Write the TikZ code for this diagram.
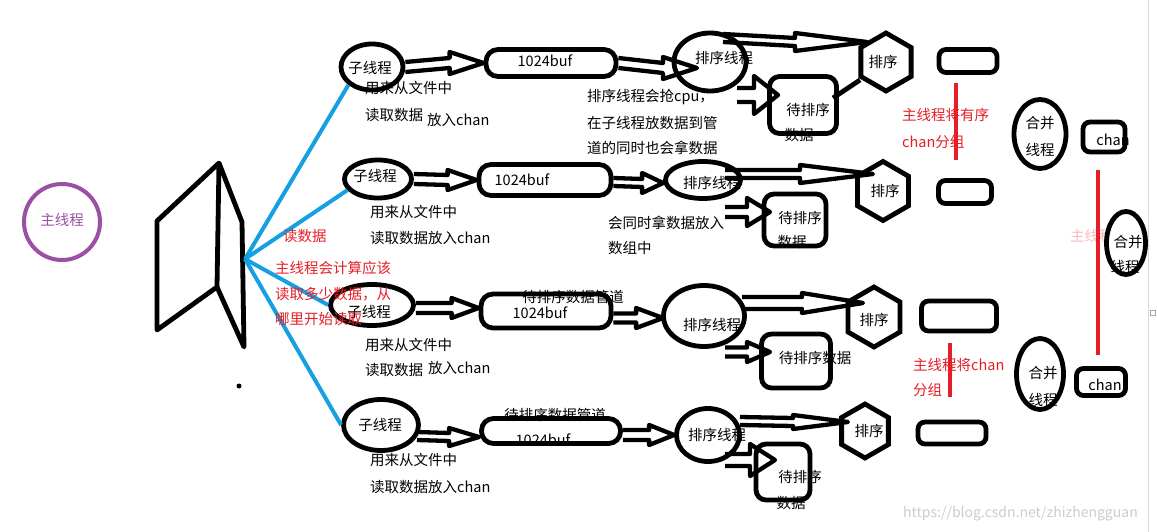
\documentclass[tikz,border=0pt]{standalone}
\usepackage{fontspec}
\setmainfont{Noto Sans CJK SC}
\usetikzlibrary{shapes.geometric,calc}
\definecolor{rd}{RGB}{230,30,40}
\definecolor{bl}{RGB}{20,160,225}
\definecolor{pu}{RGB}{155,80,165}
\begin{document}
\begin{tikzpicture}[x=1pt,y=-1pt,
  every node/.style={font=\fontsize{14.5}{17}\selectfont, inner sep=0pt},
  thk/.style={draw=black, line width=4.8pt},
  ell/.style={thk, ellipse},
  rbox/.style={thk, rectangle, rounded corners=#1},
  hexa/.style={thk, regular polygon, regular polygon sides=6, shape border rotate=30},
  txt/.style={anchor=west},
  redtxt/.style={anchor=west, text=rd},
  blueln/.style={draw=bl, line width=4pt},
  redln/.style={draw=rd, line width=4pt},
  blk/.style n args={3}{draw=black, line width=4.3pt, line join=round, to path={
    let \p1=(\tikztostart), \p2=(\tikztotarget) in
    (\x1,\y1+#1) -- (\x2-#2,\y2+#1) -- (\x2-#2,\y2+#3) -- (\x2,\y2) -- (\x2-#2,\y2-#3) -- (\x2-#2,\y2-#1) -- (\x1,\y1-#1)}}
]
\useasboundingbox (0,0) rectangle (1157,532);
\fill[white] (0,0) rectangle (1157,532);

% main thread
\node[draw=pu, line width=4pt, circle, minimum size=76] (mt) at (62,222) {};
\node[text=pu] at (62,220) {主线程};

% book
\coordinate (bk) at (245,259);
\draw[thk, line join=round] (157,221) -- (219,163) -- (217,287) -- (157,330) -- cycle;
\draw[thk, line join=round] (219,163) -- (242,222) -- (244,347) -- (217,287);
\fill (239,386) circle (2.5);

% ---------- row 1
\node[ell, minimum width=62, minimum height=46] (z1) at (372,67) {};
\node at (370,68) {子线程};
\node[rbox=12, minimum width=130, minimum height=27] (b1) at (551,63) {};
\node at (545,61) {1024buf};
\node[ell, minimum width=72, minimum height=58] (s1) at (710,62) {};
\node at (724,58) {排序线程};
\node at (808,110) {待排序};
\node at (799,135) {数据};
\node[rbox=10, minimum width=67, minimum height=57] (p1) at (803,105) {};
\node[hexa, minimum size=58] (h1) at (886,62) {};
\node at (883,62) {排序};
\node[rbox=7, minimum width=58, minimum height=23] (r1) at (968,61) {};
\node[txt] at (365,88) {用来从文件中};
\node[txt] at (365,115) {读取数据};
\node[txt] at (427,120) {放入chan};
\node[txt] at (587,97) {排序线程会抢cpu，};
\node[txt] at (587,123) {在子线程放数据到管};
\node[txt] at (587,148) {道的同时也会拿数据};
\draw[blk={5}{34}{11}] (z1.east) to (b1.west);
\draw[blk={5}{34}{11}] (b1.east) to ($(s1.center)+(-13,6)$);
\draw[blk={4}{72}{9}] ($(s1.center)+(13,-24)$) to ($(h1.center)+(-19,-20)$);
\draw[blk={7}{24}{19}] ($(s1.center)+(27,33)$) to ($(p1.center)+(-25,-10)$);
\draw[thk] ($(p1.center)+(30,-7)$) -- ($(h1.center)+(-26,18)$);
\node[redtxt] at (902,115) {主线程将有序};
\node[redtxt] at (902,142) {chan分组};
\draw[redln] (956,83) -- (956,160);

% ---------- row 2
\node[ell, minimum width=67, minimum height=38] (z2) at (378,179) {};
\node at (375,176) {子线程};
\node[rbox=12, minimum width=132, minimum height=31] (b2) at (545,180) {};
\node at (522,180) {1024buf};
\node[ell, minimum width=75, minimum height=37] (s2) at (703,180) {};
\node at (712,183) {排序线程};
\node at (800,218) {待排序};
\node at (792,242) {数据};
\node[rbox=10, minimum width=62, minimum height=52] (p2) at (795,220) {};
\node[hexa, minimum size=59] (h2) at (883,191) {};
\node at (885,191) {排序};
\node[rbox=7, minimum width=53, minimum height=23] (r2) at (965,192) {};
\node[txt] at (370,212) {用来从文件中};
\node[txt] at (370,238) {读取数据放入chan};
\node[txt] at (608,223) {会同时拿数据放入};
\node[txt] at (608,248) {数组中};
\draw[blk={5}{29}{10}] (z2.east) to (b2.west);
\draw[blk={4}{21}{10}] ($(b2.east)+(0,2)$) to ($(s2.west)+(0,3)$);
\draw[blk={4}{73}{9}] ($(s2.center)+(22,-6)$) to ($(h2.center)+(-10,-17)$);
\draw[blk={5}{23}{14}] ($(s2.center)+(22,32)$) to ($(p2.center)+(-25,-8)$);

% ---------- row 3
\node[ell, minimum width=83, minimum height=41] (z3) at (372,305) {};
\node at (369,312) {子线程};
\node at (573,297) {待排序数据管道};
\node[rbox=12, minimum width=130, minimum height=34] (b3) at (546,311) {};
\node at (540,313) {1024buf};
\node[ell, minimum width=81, minimum height=61] (s3) at (704,316) {};
\node at (712,325) {排序线程};
\node[rbox=10, minimum width=69, minimum height=54] (p3) at (796,361) {};
\node at (815,358) {待排序数据};
\node[hexa, minimum size=60] (h3) at (874,317) {};
\node at (874,320) {排序};
\node[rbox=7, minimum width=75, minimum height=30] (r3) at (959,316) {};
\node[txt] at (365,345) {用来从文件中};
\node[txt] at (365,370) {读取数据};
\node[txt] at (428,368) {放入chan};
\draw[blk={5}{27}{10}] ($(z3.east)+(0,3)$) to ($(b3.west)+(0,-3)$);
\draw[blk={4.5}{27}{10}] ($(b3.east)+(0,7)$) to ($(s3.west)+(2,2)$);
\draw[blk={6}{61}{10}] ($(s3.center)+(38,-13)$) to ($(h3.center)+(-11,-14)$);
\draw[blk={4.5}{23}{10}] ($(s3.center)+(21,36)$) to ($(p3.center)+(-26,-9)$);
\node[redtxt] at (913,365) {主线程将chan};
\node[redtxt] at (913,390) {分组};
\draw[redln] (950,343) -- (950,397);

% ---------- row 4
\node[ell, minimum width=75, minimum height=51] (z4) at (381,425) {};
\node at (380,425) {子线程};
\node at (555,415) {待排序数据管道};
\node at (543,440) {1024buf};
\node[rbox=12, minimum width=139, minimum height=25] (b4) at (551,431) {};
\node[ell, minimum width=63, minimum height=53] (s4) at (708,435) {};
\node at (717,435) {排序线程};
\node at (800,477) {待排序};
\node at (791,503) {数据};
\node[rbox=10, minimum width=54, minimum height=56] (p4) at (783,472) {};
\node[hexa, minimum size=54] (h4) at (865,431) {};
\node at (869,431) {排序};
\node[rbox=7, minimum width=68, minimum height=22] (r4) at (952,433) {};
\node[txt] at (370,460) {用来从文件中};
\node[txt] at (370,487) {读取数据放入chan};
\draw[blk={4}{30}{9}] ($(z4.center)+(36,11)$) to ($(b4.west)+(0,6)$);
\draw[blk={5}{25}{10}] ($(b4.east)+(0,4)$) to (s4.west);
\draw[blk={4}{55}{7}] ($(s4.center)+(32,-14)$) to ($(h4.center)+(-17,-9)$);
\draw[blk={6}{25}{16}] ($(s4.center)+(17,25)$) to ($(p4.center)+(-8,-12)$);

% blue fan lines
\draw[blueln] (bk) -- (z1.south west);
\draw[blueln] (bk) -- (z2.200);
\draw[blueln] (bk) -- (z3.west);
\draw[blueln] (bk) -- (z4.west);

% red notes near the book
\node[redtxt] at (283,236) {读数据};
\node[redtxt] at (275,268) {主线程会计算应该};
\node[redtxt] at (275,294) {读取多少数据，从};
\node[redtxt] at (275,319) {哪里开始读取};

% ---------- merge side
\node[ell, minimum width=52, minimum height=69] (m1) at (1040,134) {};
\node at (1040,123) {合并};
\node at (1040,150) {线程};
\node[rbox=7, minimum width=42, minimum height=30] (c1) at (1104,137) {};
\node at (1113,140) {chan};
\draw[redln] (1098,170) -- (1098,355);
\node[redtxt, opacity=.3] at (1070,236) {主线程};
\node[ell, fill=white, minimum width=39, minimum height=63] (m2) at (1126,243) {};
\node at (1128,242) {合并};
\node at (1125,267) {线程};
\node[ell, minimum width=47, minimum height=71] (m3) at (1040,374) {};
\node at (1043,373) {合并};
\node at (1043,400) {线程};
\node[rbox=7, minimum width=49, minimum height=27] (c2) at (1101,382) {};
\node at (1105,385) {chan};

% frame edge, handle, watermark
\draw[gray!30, line width=1pt] (1148,0) -- (1148,532);
\draw[gray!70, line width=0.8pt] (1150,310) rectangle (1155,315);
\node[anchor=west, text=gray!40, font=\fontsize{14}{16}\selectfont] at (903,514) {https://blog.csdn.net/zhizhengguan};
\end{tikzpicture}
\end{document}
